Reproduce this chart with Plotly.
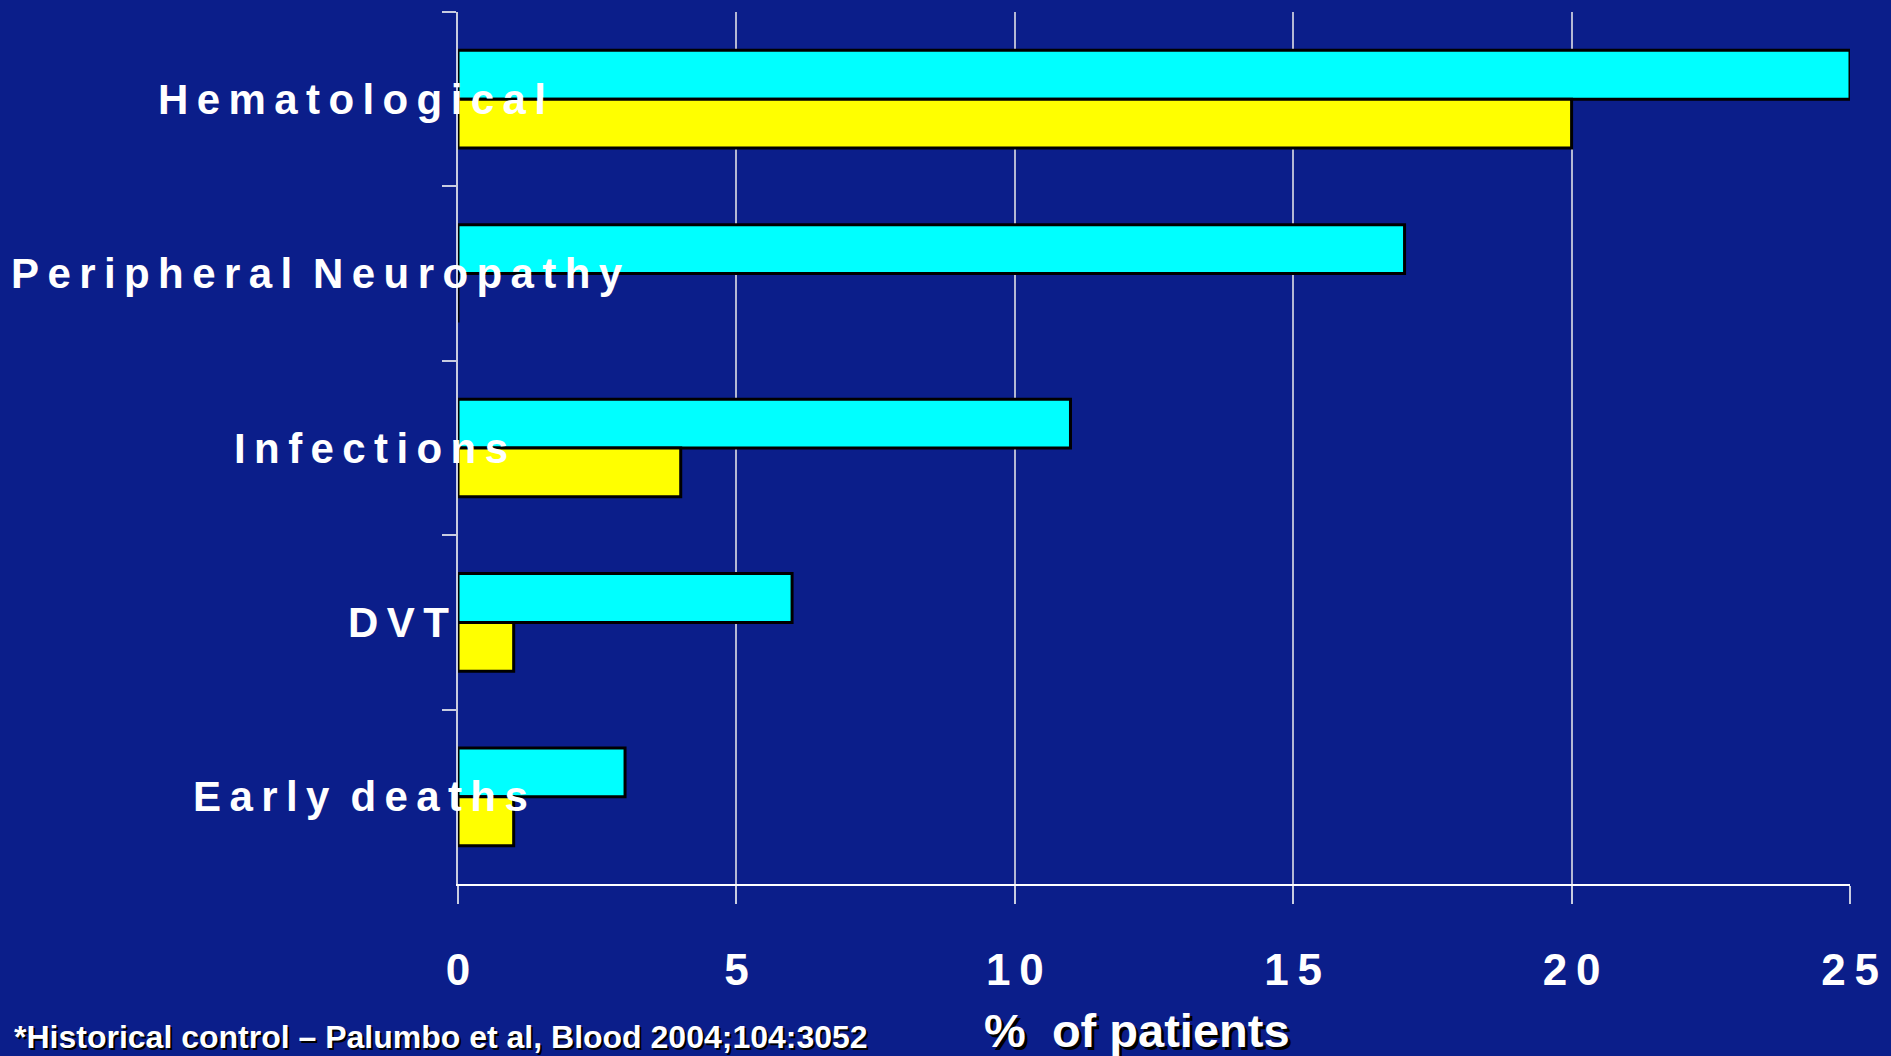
import plotly.graph_objects as go

# Adverse events, % of patients
categories = ["Hematological", "Peripheral Neuropathy", "Infections", "DVT", "Early deaths"]
current_pct = [25, 17, 11, 6, 3]      # cyan series
historical_pct = [20, 0, 4, 1, 1]     # yellow series (historical control)
x_ticks = [0, 5, 10, 15, 20, 25]

BG = "#0b1e8a"
FONT = "Liberation Sans, Arial, sans-serif"
THIN = "\u2009"
WORD_GAP = "\u2002"


def spaced(word):
    # wide letter spacing used on the slide labels
    return WORD_GAP.join(THIN.join(w) for w in word.split(" "))


fig = go.Figure()
fig.add_trace(go.Bar(
    y=categories, x=current_pct, orientation="h",
    marker=dict(color="#00ffff", line=dict(color="black", width=3)),
    showlegend=False,
))
fig.add_trace(go.Bar(
    y=categories, x=historical_pct, orientation="h",
    marker=dict(color="#ffff00", line=dict(color="black", width=3)),
    showlegend=False,
))

# category labels, centred per row as on the slide
label_centers_px = [352, 316, 371, 398, 360]
plot_left, plot_right = 458, 1856
plot_w = plot_right - plot_left
for cat, cx in zip(categories, label_centers_px):
    fig.add_annotation(
        x=(cx - plot_left) / plot_w, xref="paper", y=cat, yref="y",
        text=spaced(cat), showarrow=False, xanchor="center", yanchor="middle",
        font=dict(family=FONT, size=42, color="white", weight="bold"),
    )

fig.add_annotation(
    x=(1140 - plot_left) / plot_w, xref="paper", y=-0.168, yref="paper",
    text="%  of patients", showarrow=False, xanchor="center", yanchor="middle",
    font=dict(family=FONT, size=47, color="white", weight="bold",
              shadow="3px 3px 0px black"),
)
fig.add_annotation(
    x=(10 - plot_left) / plot_w, xref="paper", y=-0.176, yref="paper",
    text="*Historical control \u2013 Palumbo et al, Blood 2004;104:3052",
    showarrow=False, xanchor="left", yanchor="middle",
    font=dict(family=FONT, size=32, color="white", weight="bold",
              shadow="2px 2px 0px black"),
)

fig.update_layout(
    width=1891, height=1056,
    margin=dict(l=plot_left, r=1891 - plot_right, t=12, b=172),
    paper_bgcolor=BG, plot_bgcolor=BG,
    barmode="group", bargap=0.44, bargroupgap=0,
    xaxis=dict(
        range=[0, 25], tickvals=x_ticks,
        ticktext=[THIN.join(str(v)) for v in x_ticks],
        tickfont=dict(family=FONT, size=44, color="white", weight="bold"),
        ticks="outside", ticklen=18, tickwidth=2, tickcolor="#c8cce0",
        ticklabelstandoff=28,
        showgrid=True, gridcolor="#b4b8d4", gridwidth=1.5,
        showline=True, linecolor="white", linewidth=2,
        zeroline=False,
    ),
    yaxis=dict(
        autorange="reversed", showticklabels=False,
        ticks="outside", ticklen=14, tickwidth=2, tickcolor="#c8cce0",
        tickson="boundaries",
        showline=True, linecolor="#c8cce0", linewidth=2,
        showgrid=False, zeroline=False,
    ),
)

fig.write_html("out.html")
